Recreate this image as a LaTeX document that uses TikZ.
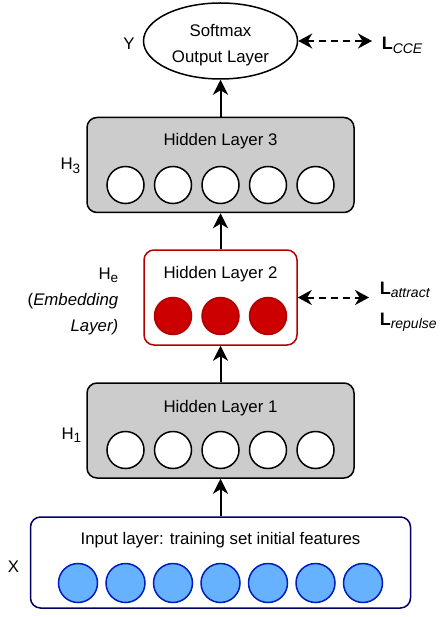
\documentclass[tikz,border=0pt]{standalone}
\usepackage{fontspec}
\setmainfont{Liberation Sans}
\usetikzlibrary{arrows.meta}
\usetikzlibrary{shapes.geometric}
\definecolor{layergray}{HTML}{CCCCCC}
\definecolor{embline}{HTML}{B20000}
\definecolor{embfill}{HTML}{CC0000}
\definecolor{inpline}{HTML}{000066}
\definecolor{inpunitline}{HTML}{001DBC}
\definecolor{inpfill}{HTML}{66B2FF}
\newcommand{\lsub}[1]{\raisebox{-3.5pt}{\fontsize{14}{14}\selectfont\itshape #1}}
\newcommand{\hsub}[1]{\raisebox{-3.5pt}{\fontsize{13.5}{14}\selectfont #1}}
\tikzset{feed/.style = {line width=2pt, -{Stealth[length=15pt, width=15pt, inset=4.5pt]}}}
\tikzset{loss/.style = {line width=2pt, dash pattern=on 7pt off 5pt,
                        {Stealth[length=14pt, width=15pt, inset=4.5pt]}-{Stealth[length=14pt, width=15pt, inset=4.5pt]}}}
\tikzset{hidbox/.style = {draw, fill=layergray, rounded corners=10pt,
                          minimum width=267pt, minimum height=95pt}}
\tikzset{embbox/.style = {draw=embline, fill=white, rounded corners=10pt,
                          minimum width=153pt, minimum height=95pt}}
\tikzset{inpbox/.style = {draw=inpline, fill=white, rounded corners=10pt,
                          minimum width=380pt, minimum height=91pt}}
\tikzset{neuron/.style = {circle, draw, fill=white, inner sep=0, minimum size=37pt}}
\tikzset{embneuron/.style = {neuron, draw=embline, fill=embfill}}
\tikzset{inpneuron/.style = {neuron, draw=inpunitline, fill=inpfill, minimum size=39pt}}
\tikzset{outlayer/.style = {ellipse, draw, fill=white, inner sep=0,
                            minimum width=154pt, minimum height=76pt}}

\begin{document}
\begin{tikzpicture}[x=1pt, y=-1pt, line width=1.5pt,
                    every node/.style={font=\fontsize{16.8}{20}\selectfont}]
  \useasboundingbox (0, 0) rectangle (443, 617);

  % output layer
  \node [outlayer] (out) at (220.5, 41) {};
  \node [align=center, font=\fontsize{16.8}{26}\selectfont] (outtext) at (220.5, 45.5) {Softmax\\Output Layer};
  \node [anchor=base] (ylab) at (129, 50) {Y};
  \coordinate (ccetip) at (372, 41);
  \node [anchor=base west, inner sep=0] (lcce) at (381, 50) {\fontsize{18}{20}\selectfont\textbf{L}\lsub{CCE}};

  % hidden layer 3
  \node [hidbox] (h3) at (220.5, 165) {};
  \node [anchor=base] (h3title) at (220.5, 146) {Hidden Layer 3};
  \foreach \i in {1,...,5}
    \node [neuron] (h3n\i) at ({220.5+47.5*(\i-3)}, 185) {};
  \node [anchor=base east, inner sep=0] (h3lab) at (81, 170) {H\hsub{3}};

  % hidden layer 2 = embedding
  \node [embbox] (h2) at (220.5, 297.5) {};
  \node [anchor=base] (h2title) at (220.5, 278) {Hidden Layer 2};
  \foreach \i in {1,2,3}
    \node [embneuron] (h2n\i) at ({220.5+47.5*(\i-2)}, 316) {};
  \node [align=right, anchor=east, inner sep=0, font=\fontsize{16.8}{26}\selectfont] (h2lab) at (119, 301) {H\hsub{e}\\(\textit{Embedding}\\\textit{Layer)}};
  \coordinate (atttip) at (369, 297.5);
  \node [align=left, anchor=west, inner sep=0, font=\fontsize{18}{31}\selectfont] (latt) at (379, 307) {\textbf{L}\lsub{attract}\\\textbf{L}\lsub{repulse}};

  % hidden layer 1
  \node [hidbox] (h1) at (220.5, 430.5) {};
  \node [anchor=base] (h1title) at (220.5, 412) {Hidden Layer 1};
  \foreach \i in {1,...,5}
    \node [neuron] (h1n\i) at ({220.5+47.5*(\i-3)}, 450) {};
  \node [anchor=base east, inner sep=0] (h1lab) at (82, 439) {H\hsub{1}};

  % input layer
  \node [inpbox] (inp) at (220.5, 562.5) {};
  \node [anchor=base] (inptitle) at (220.5, 544) {Input layer: training set initial features};
  \foreach \i in {1,...,7}
    \node [inpneuron] (inpn\i) at ({220.5+47.5*(\i-4)}, 583) {};
  \node [anchor=base] (xlab) at (13.5, 572) {X};

  \draw [feed] (inp.north) -- (h1.south);
  \draw [feed] (h1.north) -- (h2.south);
  \draw [feed] (h2.north) -- (h3.south);
  \draw [feed] (h3.north) -- (out.south);
  \draw [loss] (out.east) -- (ccetip); %categorical cross entropy
  \draw [loss] (h2.east) -- (atttip);
\end{tikzpicture}
\end{document}
